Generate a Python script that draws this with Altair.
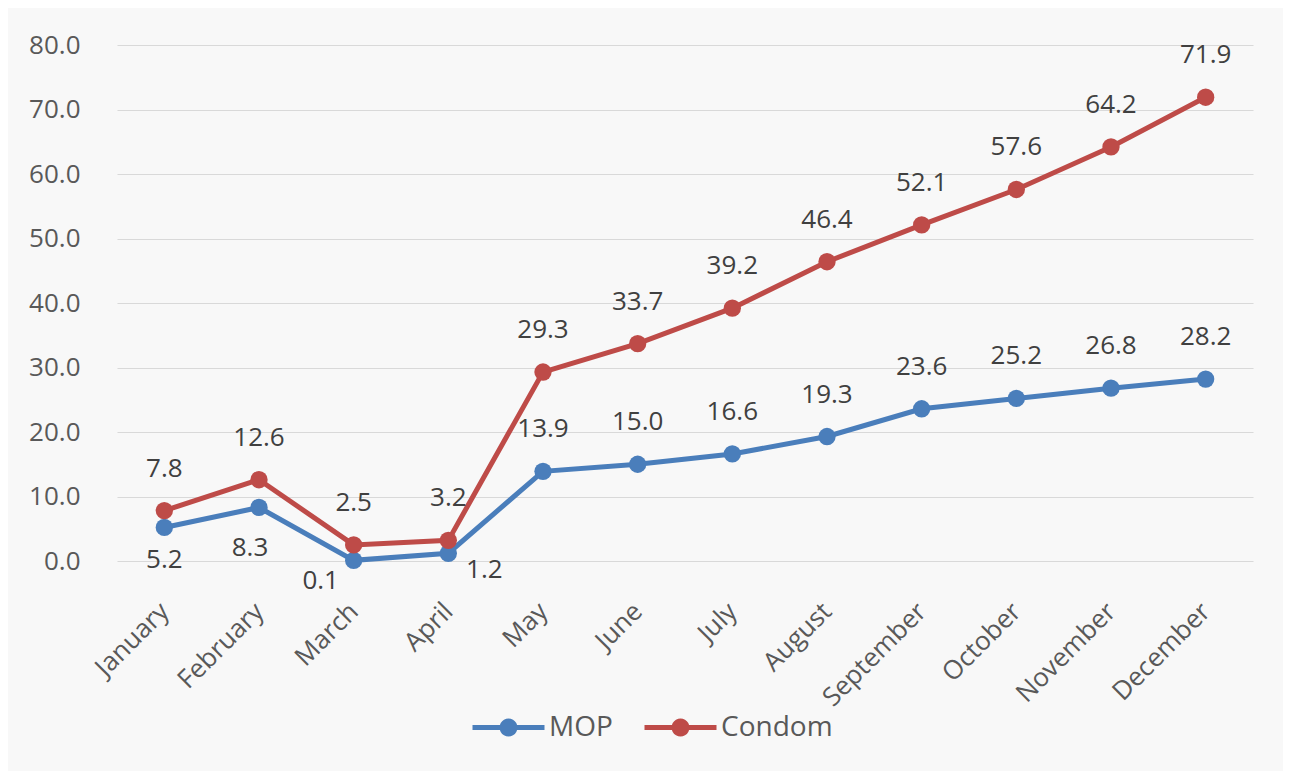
import math
import altair as alt
import pandas as pd

months = ["January", "February", "March", "April", "May", "June", "July",
          "August", "September", "October", "November", "December"]
mop = [5.2, 8.3, 0.1, 1.2, 13.9, 15.0, 16.6, 19.3, 23.6, 25.2, 26.8, 28.2]
condom = [7.8, 12.6, 2.5, 3.2, 29.3, 33.7, 39.2, 46.4, 52.1, 57.6, 64.2, 71.9]
series_names = ["MOP", "Condom"]
series_colors = ["#4A7EBB", "#BE4B48"]
y_ticks = [0, 10, 20, 30, 40, 50, 60, 70, 80]

rows = []
for s, vals in zip(series_names, [mop, condom]):
    for i, (m, v) in enumerate(zip(months, vals)):
        rows.append({"month": m, "series": s, "value": v, "order": i})
df = pd.DataFrame(rows)

FONT = "Open Sans"
FS = 26


def ring(rad, n=24):
    pts = [(rad * math.cos(2 * math.pi * k / n), rad * math.sin(2 * math.pi * k / n))
           for k in range(n)]
    return "M" + " L".join(f"{x:.4f},{y:.4f}" for x, y in pts) + " Z"


# legend glyph: a line with a (stroked-filled) marker in the middle
legend_symbol = "M-1,0 L1,0 " + ring(0.07) + " " + ring(0.18)

xenc = alt.X("month:N", sort=months, scale=alt.Scale(padding=0.5),
             axis=alt.Axis(title=None, labelAngle=-45, labelAlign="right",
                           labelBaseline="middle", labelPadding=46,
                           labelFontSize=FS, labelColor="#595959", labelFont=FONT,
                           ticks=False, domain=False, grid=False))
yenc = alt.Y("value:Q", scale=alt.Scale(domain=[0, 80], nice=False),
             axis=alt.Axis(title=None, values=y_ticks, format=".1f",
                           labelFontSize=FS, labelColor="#595959", labelFont=FONT,
                           labelPadding=37, ticks=False, domain=False,
                           grid=True, gridColor="#d9d9d9", gridWidth=1))

cscale = alt.Scale(domain=series_names, range=series_colors)

base = alt.Chart(df)

line = base.mark_line(strokeWidth=5).encode(
    x=xenc, y=yenc,
    color=alt.Color("series:N", scale=cscale,
                    legend=alt.Legend(title=None, orient="none", direction="horizontal",
                                      legendX=353, legendY=644, padding=0,
                                      symbolType=legend_symbol, symbolStrokeWidth=5,
                                      symbolSize=5184, labelOffset=2,
                                      columnPadding=21, labelFontSize=28,
                                      labelFont=FONT, labelColor="#595959")),
    order="order:Q",
)

points = base.mark_point(filled=True, size=300, opacity=1).encode(
    x=xenc, y=yenc,
    color=alt.Color("series:N", scale=cscale),
)

special = ["January", "February", "March", "April"]

txt_main = base.transform_filter(
    f"datum.series == 'Condom' || indexof({special}, datum.month) < 0"
).mark_text(dy=-42, fontSize=FS, font=FONT, color="#404040").encode(
    x=xenc, y=yenc, text=alt.Text("value:Q", format=".1f"))


def special_label(month, dx, dy):
    return base.transform_filter(
        f"datum.series == 'MOP' && datum.month == '{month}'"
    ).mark_text(dx=dx, dy=dy, fontSize=FS, font=FONT, color="#404040").encode(
        x=xenc, y=yenc, text=alt.Text("value:Q", format=".1f"))


chart = alt.layer(
    line, points, txt_main,
    special_label("January", 0, 33),
    special_label("February", -9, 41),
    special_label("March", -33, 21),
    special_label("April", 36, 17),
).properties(
    width=1136, height=516,
    autosize=alt.AutoSizeParams(type="none"),
    padding={"left": 109, "top": 37, "right": 30, "bottom": 210},
    background="#f8f8f8",
).configure_view(stroke=None)

chart.save("out.html", embed_options={"renderer": "svg", "actions": False})
